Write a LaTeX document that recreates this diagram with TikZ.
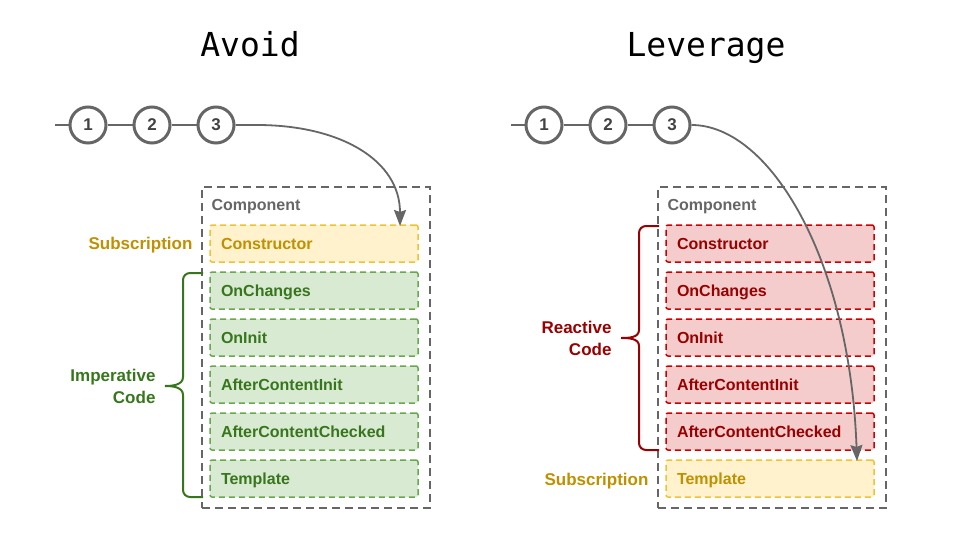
\documentclass[tikz,border=0pt]{standalone}
\usepackage{fontspec}
\setmainfont{Liberation Sans}
\setmonofont{DejaVu Sans Mono}
\usetikzlibrary{positioning,arrows.meta}

\definecolor{cgray}{HTML}{666666}
\definecolor{cnum}{HTML}{434343}
\definecolor{grntext}{HTML}{38761D}
\definecolor{grnfill}{HTML}{D9EAD3}
\definecolor{grnline}{HTML}{6AA84F}
\definecolor{redtext}{HTML}{990000}
\definecolor{redfill}{HTML}{F4CCCC}
\definecolor{redline}{HTML}{CC0000}
\definecolor{yeltext}{HTML}{BF9000}
\definecolor{yelfill}{HTML}{FFF2CC}
\definecolor{yelline}{HTML}{F1C232}

\tikzset{
  hookbox/.style={rectangle, rounded corners=2pt, line width=1.5pt, dash pattern=on 6pt off 4pt,
    text width=186pt, inner xsep=11pt, inner ysep=0pt, minimum height=37pt,
    text height=14pt, text depth=1.5pt,
    align=left, font=\fontsize{16}{18}\selectfont\bfseries},
  imphook/.style={hookbox, draw=grnline, fill=grnfill, text=grntext},
  reacthook/.style={hookbox, draw=redline, fill=redfill, text=redtext},
  subhook/.style={hookbox, draw=yelline, fill=yelfill, text=yeltext},
  compbox/.style={draw=cgray, line width=2pt, dash pattern=on 8pt off 5pt,
    minimum width=228pt, minimum height=321pt},
  stepcirc/.style={circle, draw=cgray, line width=3pt, fill=white,
    minimum size=36pt, inner sep=0pt, text=cnum, font=\fontsize{17}{18}\selectfont\bfseries},
  tline/.style={draw=cgray, line width=2pt},
  flow/.style={draw=cgray, line width=1.8pt, -{Stealth[length=16pt,width=12pt,inset=2pt]}},
  sidelabel/.style={align=right, font=\fontsize{17}{22}\selectfont\bfseries},
  title/.style={anchor=base, font=\fontsize{33}{36}\selectfont\ttfamily}
}

\begin{document}
\begin{tikzpicture}[x=1pt,y=-1pt]
\useasboundingbox (0,0) rectangle (960,540);

% titles
\node[title] (avoid) at (250,57) {Avoid};
\node[title] (leverage) at (706,57) {Leverage};

% left side: imperative
\node[compbox] (lcomp) at (316,347.5) {};
\node[anchor=west, text=cgray, font=\fontsize{16}{18}\selectfont\bfseries] (lcomptext) at (208,207) {Component};
\node[subhook] (lctor) at (314,243.5) {Constructor};
\node[imphook] (lchanges) at (314,290.5) {OnChanges};
\node[imphook] (linit) at (314,337.5) {OnInit};
\node[imphook] (lcinit) at (314,384.5) {AfterContentInit};
\node[imphook] (lcchecked) at (314,431.5) {AfterContentChecked};
\node[imphook] (ltemplate) at (314,478.5) {Template};

\node[sidelabel, text=yeltext, anchor=east] (lsub) at (196,245) {Subscription};
\draw[grntext, line width=2pt] (203,273) -- (190,273) to[out=180,in=90] (183,280) -- (183,377)
  to[out=-90,in=0] (165,386) to[out=0,in=90] (183,395) -- (183,490) to[out=-90,in=180] (190,497) -- (203,497);
\coordinate (lbrace) at (165,386);
\node[sidelabel, text=grntext, anchor=east, left=6pt of lbrace] (limp) {Imperative\\Code};

% left timeline
\coordinate (lstart) at (55,125);
\node[stepcirc] (l1) at (88,125) {1};
\node[stepcirc] (l2) at (152,125) {2};
\node[stepcirc] (l3) at (216,125) {3};
\draw[tline] (lstart) -- (l1) -- (l2) -- (l3);
\coordinate (lbend) at (257,125);
\coordinate (ltip) at (400,226);
\draw[flow] (l3) -- (lbend) .. controls (340,125) and (400,160) .. (ltip);

% right side: reactive
\node[compbox] (rcomp) at (772,347.5) {};
\node[anchor=west, text=cgray, font=\fontsize{16}{18}\selectfont\bfseries] (rcomptext) at (664,207) {Component};
\node[reacthook] (rctor) at (770,243.5) {Constructor};
\node[reacthook] (rchanges) at (770,290.5) {OnChanges};
\node[reacthook] (rinit) at (770,337.5) {OnInit};
\node[reacthook] (rcinit) at (770,384.5) {AfterContentInit};
\node[reacthook] (rcchecked) at (770,431.5) {AfterContentChecked};
\node[subhook] (rtemplate) at (770,478.5) {Template};

\node[sidelabel, text=yeltext, anchor=east] (rsub) at (652,481) {Subscription};
\draw[redtext, line width=2pt] (659,226) -- (646,226) to[out=180,in=90] (639,233) -- (639,330)
  to[out=-90,in=0] (621,338) to[out=0,in=90] (639,346) -- (639,443) to[out=-90,in=180] (646,450) -- (659,450);
\coordinate (rbrace) at (621,338);
\node[sidelabel, text=redtext, anchor=east, left=6pt of rbrace] (rreact) {Reactive\\Code};

% right timeline
\coordinate (rstart) at (511,125);
\node[stepcirc] (r1) at (544,125) {1};
\node[stepcirc] (r2) at (608,125) {2};
\node[stepcirc] (r3) at (672,125) {3};
\draw[tline] (rstart) -- (r1) -- (r2) -- (r3);
\coordinate (rtip) at (857,461);
\draw[flow] (r3) .. controls (770,125) and (850,260) .. (rtip);
\end{tikzpicture}
\end{document}
